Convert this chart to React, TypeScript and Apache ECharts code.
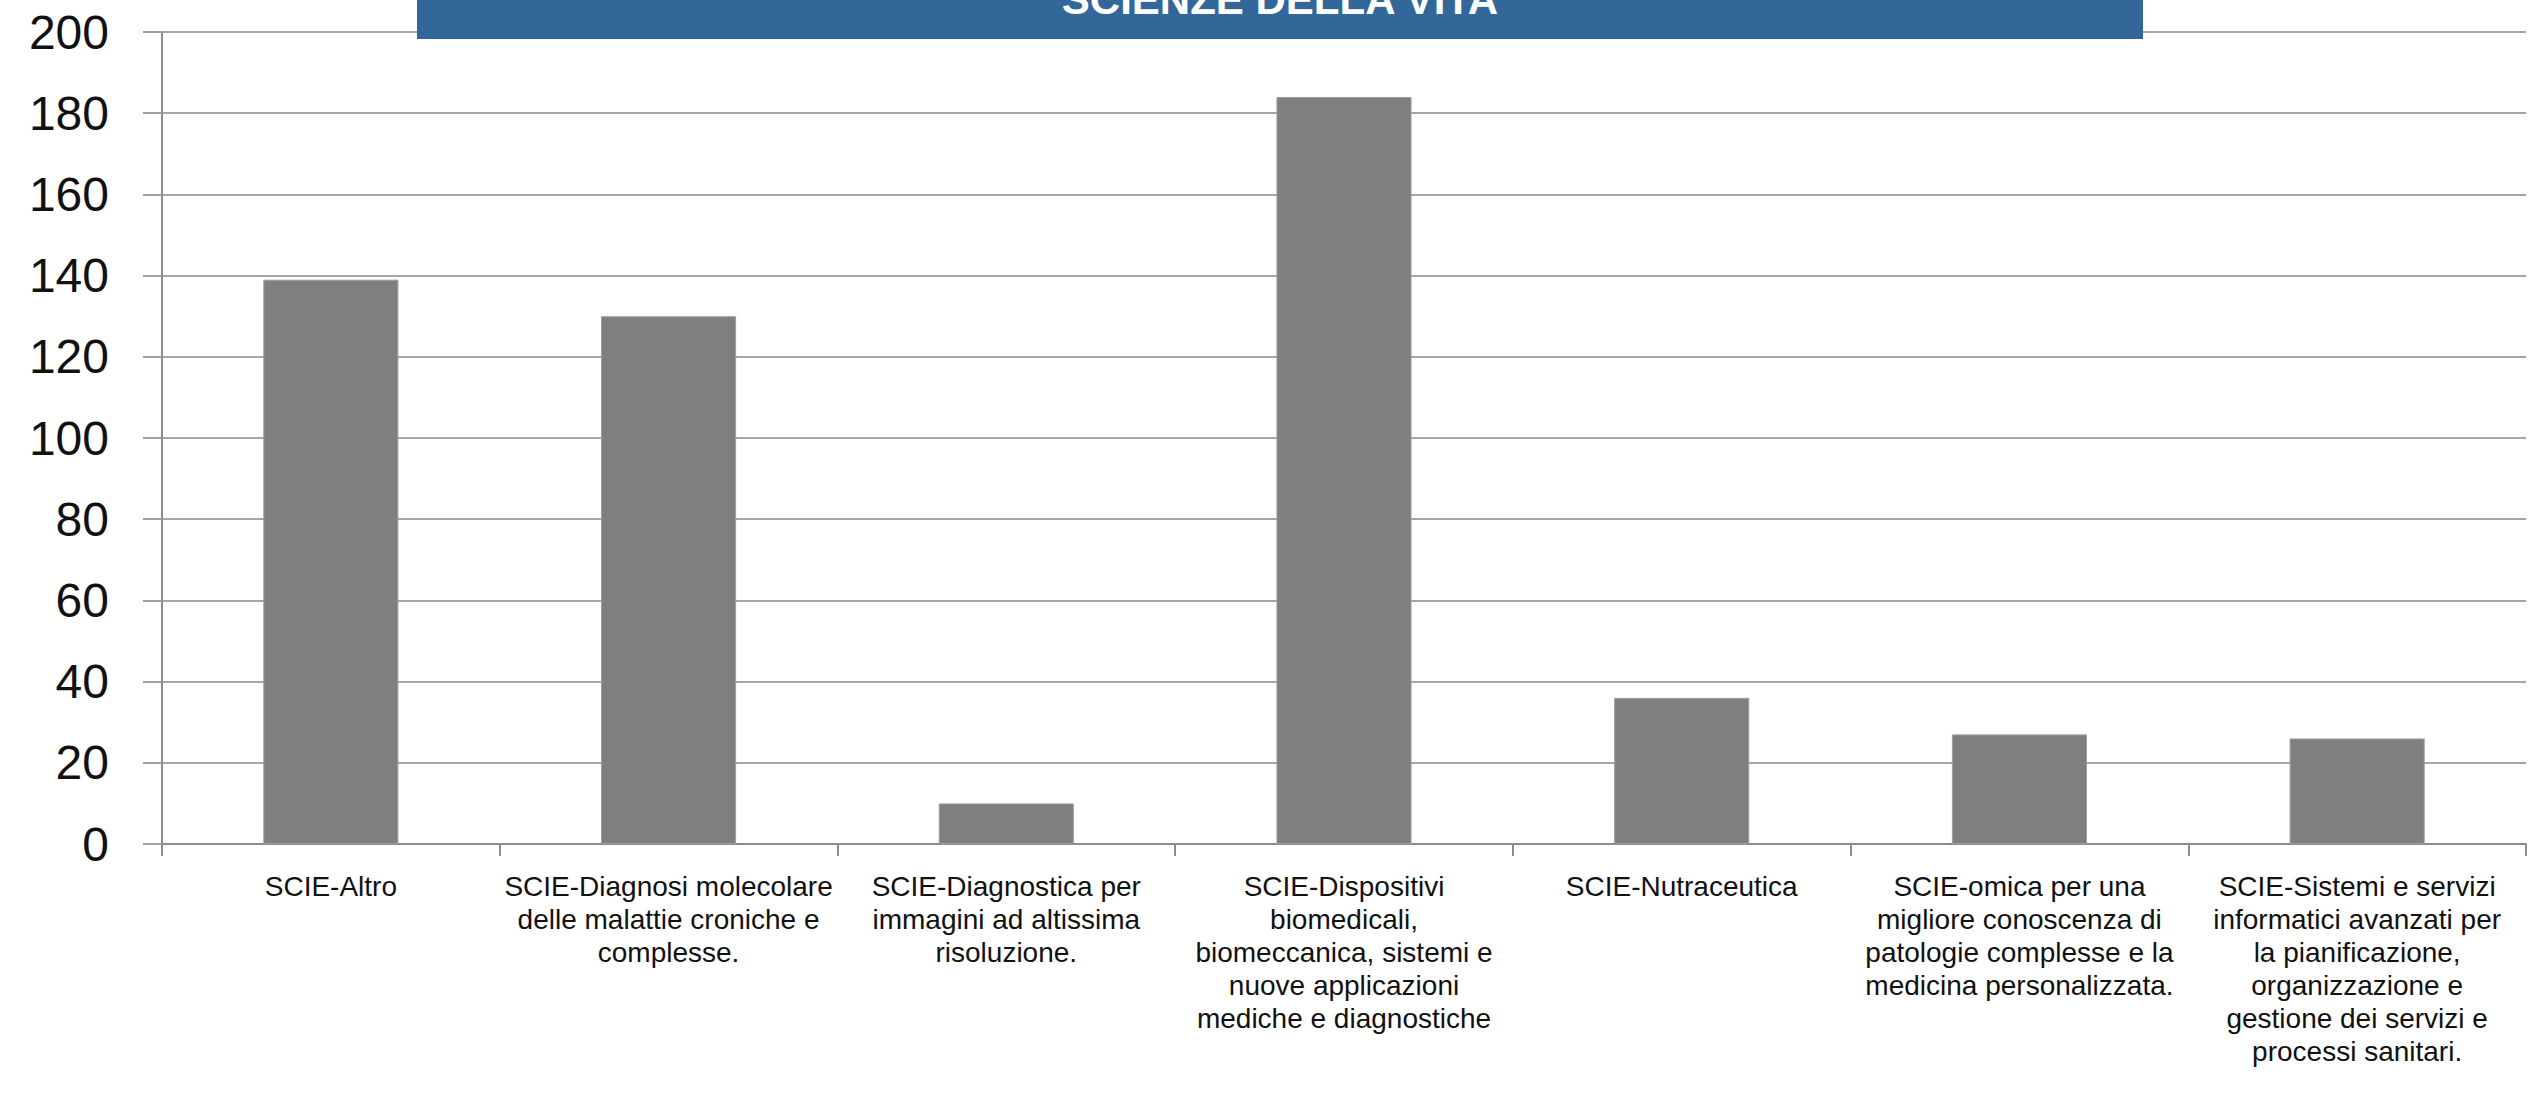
import React, { useEffect, useRef } from "react";
import * as echarts from "echarts";

const categories: string[] = [
  "SCIE-Altro",
  "SCIE-Diagnosi molecolare\ndelle malattie croniche e\ncomplesse.",
  "SCIE-Diagnostica per\nimmagini ad altissima\nrisoluzione.",
  "SCIE-Dispositivi\nbiomedicali,\nbiomeccanica, sistemi e\nnuove applicazioni\nmediche e diagnostiche",
  "SCIE-Nutraceutica",
  "SCIE-omica per una\nmigliore conoscenza di\npatologie complesse e la\nmedicina personalizzata.",
  "SCIE-Sistemi e servizi\ninformatici avanzati per\nla pianificazione,\norganizzazione e\ngestione dei servizi e\nprocessi sanitari.",
];
const values: number[] = [139, 130, 10, 184, 36, 27, 26];
const yTicks: number[] = [0, 20, 40, 60, 80, 100, 120, 140, 160, 180, 200];
const titleText = "SCIENZE DELLA VITA";

export default function App() {
  const ref = useRef<HTMLDivElement>(null);
  useEffect(() => {
    document.body.style.margin = "0";
    if (!ref.current) return;
    const chart = echarts.init(ref.current, undefined, { renderer: "svg" });
    chart.setOption({
      animation: false,
      backgroundColor: "#ffffff",
      grid: { left: 162, right: 8, top: 32, bottom: 254 },
      xAxis: {
        type: "category",
        data: categories,
        axisLine: { show: true, lineStyle: { color: "#8c8c8c", width: 2 } },
        axisTick: { show: true, length: 12, lineStyle: { color: "#8c8c8c", width: 2 } },
        axisLabel: {
          interval: 0,
          margin: 26,
          fontFamily: "Liberation Sans, Arial, sans-serif",
          fontSize: 28,
          lineHeight: 33,
          color: "#111111",
          align: "center",
        },
      },
      yAxis: {
        type: "value",
        min: yTicks[0],
        max: yTicks[yTicks.length - 1],
        interval: 20,
        axisLine: { show: true, lineStyle: { color: "#8c8c8c", width: 2 } },
        axisTick: { show: true, length: 19, lineStyle: { color: "#a0a0a0", width: 2 } },
        splitLine: { show: true, lineStyle: { color: "#a6a6a6", width: 2 } },
        axisLabel: {
          margin: 53,
          fontFamily: "Liberation Sans, Arial, sans-serif",
          fontSize: 48,
          color: "#111111",
        },
      },
      series: [
        {
          type: "bar",
          data: values,
          barWidth: "40%",
          itemStyle: { color: "#7f7f7f", borderColor: "#9e9e9e", borderWidth: 1 },
        },
      ],
      graphic: [
        {
          type: "rect",
          shape: { x: 417, y: 0, width: 1726, height: 39 },
          style: { fill: "#336699" },
          z: 100,
        },
        {
          type: "text",
          x: 1280,
          y: -1,
          z: 101,
          style: {
            text: titleText,
            fill: "#ffffff",
            font: "bold 42px 'Liberation Sans', Arial, sans-serif",
            textAlign: "center",
            textVerticalAlign: "middle",
          },
        },
      ],
    });
    return () => chart.dispose();
  }, []);
  return <div ref={ref} style={{ width: 2534, height: 1098 }} />;
}
